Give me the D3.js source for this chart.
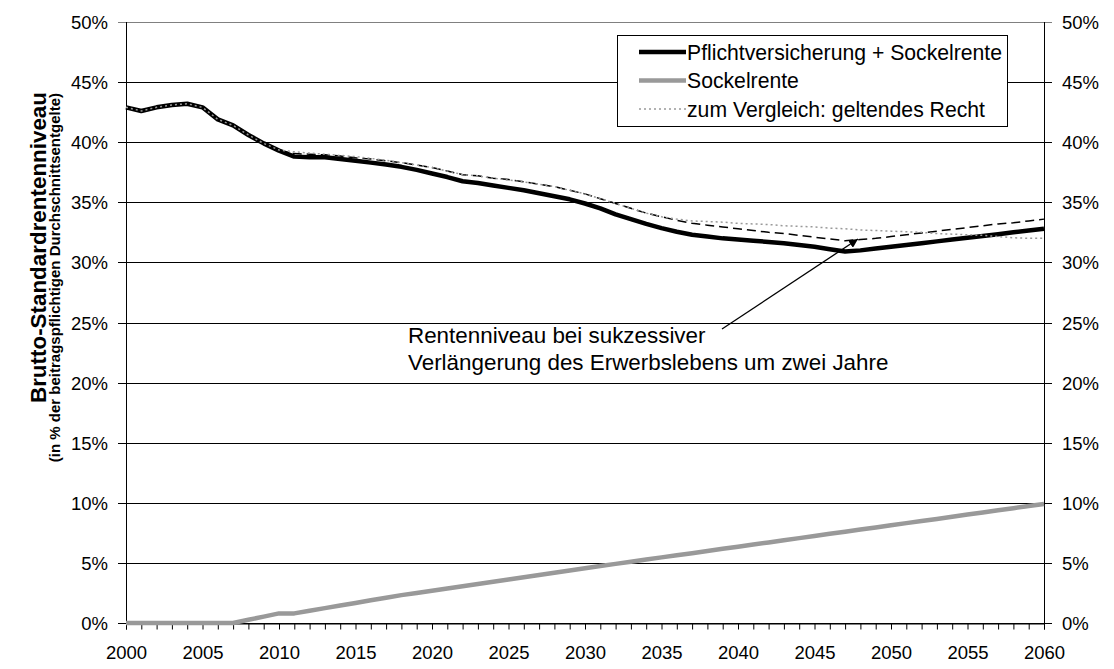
<!DOCTYPE html>
<html>
<head>
<meta charset="utf-8">
<script src="https://cdn.jsdelivr.net/npm/d3@7"></script>
<style>
  body { margin: 0; background: #fff; }
  svg { font-family: Arial, "Liberation Sans", sans-serif; }
</style>
</head>
<body>
<svg id="chart"></svg>
<script>
// years 2000..2060
var years = d3.range(2000, 2061);

// Pflichtversicherung + Sockelrente
var pflichtValues = [42.9, 42.6, 42.9, 43.1, 43.2, 42.9, 41.9, 41.4, 40.6, 39.9,
  39.3, 38.8, 38.75, 38.75, 38.6, 38.45, 38.3, 38.15, 37.95, 37.7,
  37.4, 37.1, 36.75, 36.6, 36.4, 36.2, 36.0, 35.75, 35.5, 35.25,
  34.9, 34.5, 34.0, 33.6, 33.2, 32.85, 32.55, 32.3, 32.15, 32.0,
  31.9, 31.8, 31.7, 31.6, 31.45, 31.3, 31.1, 30.9, 31.0, 31.15,
  31.3, 31.45, 31.6, 31.75, 31.9, 32.05, 32.2, 32.35, 32.5, 32.65,
  32.8];

// Sockelrente
var sockelValues = [0, 0, 0, 0, 0, 0, 0, 0, 0.27, 0.53,
  0.8, 0.8, 1.02, 1.24, 1.45, 1.67, 1.89, 2.1, 2.32, 2.5,
  2.69, 2.87, 3.06, 3.25, 3.43, 3.62, 3.8, 3.99, 4.18, 4.36,
  4.55, 4.74, 4.92, 5.1, 5.28, 5.46, 5.64, 5.81, 5.99, 6.17,
  6.35, 6.53, 6.7, 6.88, 7.06, 7.24, 7.42, 7.6, 7.77, 7.95,
  8.13, 8.31, 8.49, 8.66, 8.84, 9.02, 9.2, 9.38, 9.55, 9.73,
  9.9];

// zum Vergleich: geltendes Recht
var geltendValues = [42.9, 42.6, 42.9, 43.1, 43.2, 42.9, 41.9, 41.4, 40.6, 39.9,
  39.35, 39.2, 39.1, 39.0, 38.9, 38.8, 38.65, 38.5, 38.3, 38.1,
  37.9, 37.6, 37.3, 37.2, 37.0, 36.85, 36.7, 36.5, 36.3, 36.0,
  35.7, 35.3, 34.9, 34.5, 34.1, 33.8, 33.6, 33.45, 33.4, 33.35,
  33.25, 33.2, 33.15, 33.05, 33.0, 32.95, 32.85, 32.8, 32.7, 32.65,
  32.6, 32.55, 32.5, 32.4, 32.35, 32.3, 32.25, 32.15, 32.05, 32.0,
  32.0];

// Rentenniveau bei sukzessiver Verlaengerung des Erwerbslebens (dashed, from 2010)
var verlaengerungYears = d3.range(2010, 2061);
var verlaengerungValues = [39.3, 39.05, 39.0, 38.95, 38.85, 38.7, 38.6, 38.45, 38.3, 38.1,
  37.9, 37.6, 37.3, 37.2, 37.0, 36.9, 36.7, 36.5, 36.3, 36.0,
  35.7, 35.3, 34.9, 34.5, 34.1, 33.8, 33.5, 33.25, 33.1, 32.95,
  32.8, 32.65, 32.5, 32.4, 32.25, 32.1, 31.95, 31.8, 31.9, 32.0,
  32.15, 32.3, 32.45, 32.6, 32.75, 32.9, 33.05, 33.2, 33.3, 33.45,
  33.6];

var yTicks = [0, 5, 10, 15, 20, 25, 30, 35, 40, 45, 50];
var xLabelYears = [2000, 2005, 2010, 2015, 2020, 2025, 2030, 2035, 2040, 2045, 2050, 2055, 2060];

var legendNames = ["Pflichtversicherung + Sockelrente", "Sockelrente", "zum Vergleich: geltendes Recht"];

var width = 1114, height = 669;
var margin = {left: 126, right: 70, top: 22, bottom: 46};

var svg = d3.select("#chart")
  .attr("width", width)
  .attr("height", height);

var x = d3.scaleLinear().domain([2000, 2060]).range([margin.left, width - margin.right]);
var y = d3.scaleLinear().domain([0, 50]).range([height - margin.bottom, margin.top]);

// horizontal gridlines (with small ticks outside the plot)
svg.append("g").selectAll("line")
  .data(yTicks)
.enter().append("line")
  .attr("x1", x(2000) - 8)
  .attr("x2", x(2060) + 8)
  .attr("y1", function(d) { return Math.round(y(d)) + 0.5; })
  .attr("y2", function(d) { return Math.round(y(d)) + 0.5; })
  .attr("stroke", function(d) { return d == 50 ? "#808080" : "#000"; })
  .attr("stroke-width", 1);

// left + right axis lines
[2000, 2060].forEach(function(yr) {
  svg.append("line")
    .attr("x1", Math.round(x(yr)) + 0.5)
    .attr("x2", Math.round(x(yr)) + 0.5)
    .attr("y1", y(50))
    .attr("y2", y(0))
    .attr("stroke", "#000");
});

// x axis with yearly ticks
var xAxis = d3.axisBottom(x)
  .tickValues(years)
  .tickSize(6)
  .tickFormat(function(d) { return xLabelYears.indexOf(d) !== -1 ? d : ""; });

var gx = svg.append("g")
  .attr("transform", "translate(0," + (Math.round(y(0)) + 0.5) + ")")
  .call(xAxis);
gx.select(".domain").attr("stroke", "#000");
gx.selectAll(".tick line").attr("stroke", "#000");
gx.selectAll(".tick text")
  .attr("font-size", 18.5)
  .attr("font-family", "Arial, 'Liberation Sans', sans-serif")
  .attr("fill", "#000")
  .attr("y", 0)
  .attr("dy", 35);

// y tick labels left & right
svg.append("g").selectAll("text")
  .data(yTicks)
.enter().append("text")
  .attr("x", x(2000) - 18)
  .attr("y", function(d) { return y(d) + 7; })
  .attr("text-anchor", "end")
  .attr("font-size", 18.5)
  .text(function(d) { return d + "%"; });

svg.append("g").selectAll("text")
  .data(yTicks)
.enter().append("text")
  .attr("x", x(2060) + 18)
  .attr("y", function(d) { return y(d) + 7; })
  .attr("text-anchor", "start")
  .attr("font-size", 18.5)
  .text(function(d) { return d + "%"; });

// lines
var line = d3.line()
  .x(function(d) { return x(d[0]); })
  .y(function(d) { return y(d[1]); });

function zipSeries(xs, vs) {
  return xs.map(function(yr, i) { return [yr, vs[i]]; });
}

svg.append("path")
  .attr("d", line(zipSeries(years, sockelValues)))
  .attr("fill", "none")
  .attr("stroke", "#999")
  .attr("stroke-width", 4.5)
  .attr("stroke-linejoin", "round");

svg.append("path")
  .attr("d", line(zipSeries(years, pflichtValues)))
  .attr("fill", "none")
  .attr("stroke", "#000")
  .attr("stroke-width", 4.5)
  .attr("stroke-linejoin", "round");

svg.append("path")
  .attr("d", line(zipSeries(verlaengerungYears, verlaengerungValues)))
  .attr("fill", "none")
  .attr("stroke", "#000")
  .attr("stroke-width", 1.5)
  .attr("stroke-dasharray", "9,5");

svg.append("path")
  .attr("d", line(zipSeries(years, geltendValues)))
  .attr("fill", "none")
  .attr("stroke", "#999")
  .attr("stroke-width", 1.5)
  .attr("stroke-dasharray", "2,3");

// legend
var legend = svg.append("g");
legend.append("rect")
  .attr("x", 617.5).attr("y", 35.5)
  .attr("width", 390).attr("height", 91)
  .attr("fill", "#fff").attr("stroke", "#000");

var legendStyles = [
  {stroke: "#000", width: 4.5, dash: null},
  {stroke: "#999", width: 4.5, dash: null},
  {stroke: "#999", width: 1.5, dash: "2,3"}
];

legend.selectAll("g.item")
  .data(legendNames)
.enter().append("g")
  .attr("class", "item")
  .each(function(d, i) {
    var g = d3.select(this);
    var ly = 52 + i * 28.5;
    g.append("line")
      .attr("x1", 639).attr("x2", 686)
      .attr("y1", ly).attr("y2", ly)
      .attr("stroke", legendStyles[i].stroke)
      .attr("stroke-width", legendStyles[i].width)
      .attr("stroke-dasharray", legendStyles[i].dash);
    g.append("text")
      .attr("x", 687).attr("y", ly + 7.5)
      .attr("font-size", 21.2)
      .text(d);
  });

// annotation
var note = svg.append("text")
  .attr("font-size", 22.4);
note.append("tspan").attr("x", 408).attr("y", 343).text("Rentenniveau bei sukzessiver");
note.append("tspan").attr("x", 408).attr("y", 370).text("Verlängerung des Erwerbslebens um zwei Jahre");

svg.append("defs").append("marker")
  .attr("id", "arrow")
  .attr("viewBox", "0 -5 10 10")
  .attr("refX", 10)
  .attr("refY", 0)
  .attr("markerWidth", 7)
  .attr("markerHeight", 7)
  .attr("orient", "auto")
.append("path")
  .attr("d", "M0,-5L10,0L0,5Z")
  .attr("fill", "#000");

svg.append("line")
  .attr("x1", 722).attr("y1", 329)
  .attr("x2", 858).attr("y2", 239)
  .attr("stroke", "#000")
  .attr("stroke-width", 1.3)
  .attr("marker-end", "url(#arrow)");

// y axis title (top aligned)
svg.append("text")
  .attr("transform", "translate(46,92) rotate(-90)")
  .attr("text-anchor", "end")
  .attr("font-size", 22.4)
  .attr("font-weight", "bold")
  .text("Brutto-Standardrentenniveau");
svg.append("text")
  .attr("transform", "translate(60,93) rotate(-90)")
  .attr("text-anchor", "end")
  .attr("font-size", 15)
  .attr("font-weight", "bold")
  .text("(in % der beitragspflichtigen Durchschnittsentgelte)");
</script>
</body>
</html>
